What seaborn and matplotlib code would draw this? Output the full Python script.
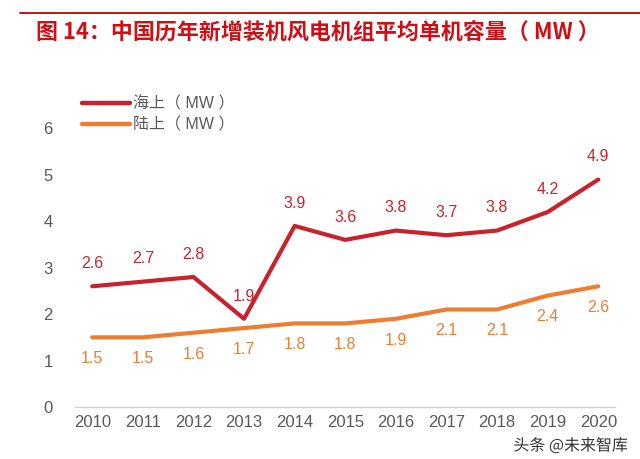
#!usr/bin/env python3

"""
Average unit capacity of newly installed wind turbines in China
"""

import pandas as pd
import seaborn as sns
import matplotlib.pyplot as plt
import matplotlib.patheffects as pe
from matplotlib.lines import Line2D

years = [2010, 2011, 2012, 2013, 2014, 2015, 2016, 2017, 2018, 2019, 2020]
offshore = [2.6, 2.7, 2.8, 1.9, 3.9, 3.6, 3.8, 3.7, 3.8, 4.2, 4.9]
onshore = [1.5, 1.5, 1.6, 1.7, 1.8, 1.8, 1.9, 2.1, 2.1, 2.4, 2.6]
series_names = ["海上（ MW ）", "陆上（ MW ）"]
colors = ["#C8232C", "#ED7D31"]

sns.set_style("white")
plt.rcParams["font.family"] = ["Liberation Sans", "Noto Sans CJK SC", "DejaVu Sans"]

df = pd.DataFrame({
    "year": years * 2,
    "value": offshore + onshore,
    "series": [series_names[0]] * len(years) + [series_names[1]] * len(years),
})

fig = plt.figure(figsize=(6.4, 4.59), dpi=100)
ax = fig.add_axes([75 / 640, 1 - 407 / 459, 540 / 640, (407 - 82) / 459])

sns.lineplot(data=df, x="year", y="value", hue="series",
             palette=dict(zip(series_names, colors)), linewidth=3,
             ax=ax, legend=False)

# value labels: offshore above, onshore below
for x, y in zip(years, offshore):
    ax.annotate(f"{y:.1f}", (x, y), xytext=(0, 11), textcoords="offset points",
                ha="center", va="bottom", color=colors[0], fontsize=11.5)
for x, y in zip(years, onshore):
    ax.annotate(f"{y:.1f}", (x, y), xytext=(0, -10), textcoords="offset points",
                ha="center", va="top", color=colors[1], fontsize=11.5)

ax.set_xlim(2009.66, 2020.33)
ax.set_ylim(0, 7)
ax.set_yticks(range(0, 7))
ax.set_xticks(years)
ax.set_xlabel("")
ax.set_ylabel("")
ax.tick_params(axis="both", colors="#595959", labelsize=12, length=0)
ax.tick_params(axis="y", pad=16)
ax.tick_params(axis="x", pad=6)

for side in ["top", "right", "left"]:
    ax.spines[side].set_visible(False)
ax.spines["bottom"].set_color("#D0D0D0")
ax.spines["bottom"].set_linewidth(1)

# legend in the upper left
handles = [Line2D([0], [0], color=c, lw=3.2) for c in colors]
fig.legend(handles, series_names, loc="upper left", bbox_to_anchor=(68 / 640, 1 - 82 / 459),
           frameon=False, fontsize=11.5, handlelength=3.0, handletextpad=0.15,
           labelspacing=0.35, labelcolor="#595959")

# title and rule
fig.lines.append(Line2D([20 / 640, 1], [1 - 13 / 459] * 2, color="#C00000", lw=1.3,
                        transform=fig.transFigure))
fig.text(36 / 640, 1 - 32 / 459, "图 14：中国历年新增装机风电机组平均单机容量（ MW ）",
         color="#CC1016", fontsize=15.8, fontweight="bold", va="center", ha="left",
         family=["Noto Sans CJK SC", "DejaVu Sans"])

# watermark
fig.text(628 / 640, 1 - 446 / 459, "头条 @未来智库", color="#333333", fontsize=11.5,
         ha="right", va="center", family=["Noto Sans CJK SC", "DejaVu Sans"],
         path_effects=[pe.withStroke(linewidth=2.5, foreground="white")])

plt.savefig("out.png", dpi=100)
